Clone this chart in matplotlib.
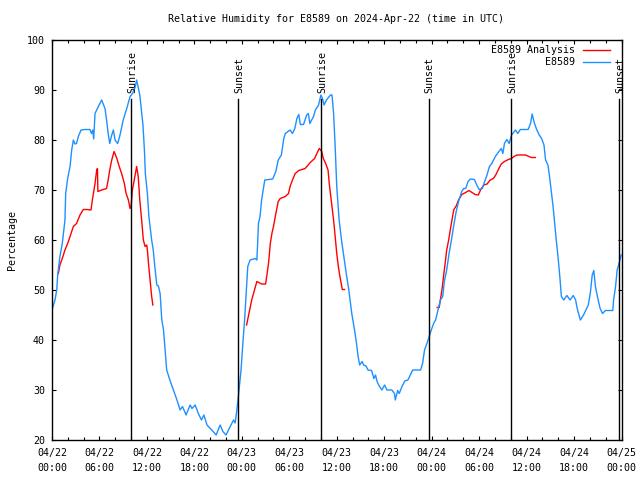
import numpy as np
import matplotlib
matplotlib.use("Agg")
import matplotlib.pyplot as plt
from matplotlib.ticker import MultipleLocator

# hours since 2024-04-22 00:00 UTC
obs_hours = [0.0, 0.38, 0.6, 0.72, 1.0, 1.3, 1.64, 1.73, 1.98, 2.28, 2.49, 2.7, 2.9, 3.1, 3.33,
             3.67, 4.18, 4.8, 5.0, 5.15, 5.27, 5.44, 5.86, 6.28, 6.7, 6.9, 7.1, 7.3, 7.55, 7.76,
             7.97, 8.3, 8.6, 9.0, 9.45, 9.87, 10.17, 10.5, 10.7, 11.1, 11.5, 11.7, 11.8, 12.06,
             12.25, 12.6, 12.8, 13.0, 13.25, 13.45, 13.67, 13.88, 14.1, 14.3, 14.5, 14.9, 15.35,
             15.8, 16.2, 16.5, 16.95, 17.46, 17.7, 18.1, 18.5, 18.9, 19.2, 19.6, 20.2, 20.75,
             21.26, 21.6, 22.0, 22.4, 22.95, 23.15, 23.37, 23.6, 23.9, 24.1, 24.35, 24.55, 24.75,
             25.05, 25.7, 25.9, 26.0, 26.1, 26.3, 26.5, 26.9, 27.9, 28.3, 28.6, 29.0, 29.3, 29.5,
             30.1, 30.4, 30.7, 30.96, 31.2, 31.4, 31.8, 32.2, 32.4, 32.6, 33.06, 33.3, 33.7, 34.0,
             34.2, 34.4, 34.7, 35.2, 35.4, 35.6, 35.8, 36.0, 36.3, 36.6, 36.9, 37.2, 37.5, 37.9,
             38.25, 38.5, 38.7, 38.9, 39.2, 39.4, 39.7, 39.95, 40.4, 40.7, 40.9, 41.1, 41.3, 41.7,
             42.05, 42.35, 42.97, 43.3, 43.4, 43.7, 43.9, 44.25, 44.6, 45.0, 45.3, 45.6, 46.6,
             46.85, 47.1, 47.4, 47.6, 47.95, 48.3, 48.5, 48.8, 49.1, 49.4, 49.6, 49.9, 50.2, 50.5,
             50.8, 51.1, 51.4, 51.8, 52.05, 52.3, 52.6, 52.9, 53.4, 53.7, 54.0, 54.4, 54.7, 55.0,
             55.3, 55.6, 56.05, 56.5, 56.8, 57.0, 57.2, 57.5, 57.8, 58.1, 58.6, 58.9, 59.2, 60.2,
             60.5, 60.7, 61.0, 61.3, 61.6, 61.9, 62.2, 62.4, 62.7, 62.9, 63.1, 63.35, 63.55, 63.75,
             63.97, 64.2, 64.4, 64.7, 65.1, 65.5, 65.9, 66.2, 66.4, 66.8, 67.2, 67.6, 67.8, 68.05,
             68.3, 68.5, 68.7, 69.05, 69.3, 69.6, 69.97, 70.9, 71.0, 71.25, 71.45, 71.75, 71.95]
obs_rh = [46, 48, 50, 53, 56.7, 59.3, 64, 69.3, 72.3, 74.7, 78, 80, 79.2, 79.3, 80.7,
          82, 82.1, 82.1, 81.3, 82, 80.2, 85.3, 86.7, 88, 86.3, 84, 81.3, 79.3, 81, 82,
          80, 79.3, 81, 84, 86.3, 88.7, 89.3, 90.5, 92, 89, 83, 77.5, 73.3, 69.3,
          64.7, 60, 58, 54.7, 51, 50.8, 49.3, 44, 42, 38, 34, 32, 30,
          28, 26, 26.7, 25, 27, 26.3, 27, 25.3, 24, 25, 23, 22, 21,
          23, 21.7, 21, 22.3, 24, 23.4, 26, 29.3, 34, 38.7, 44, 49.3, 54.7,
          56, 56.3, 56, 59.3, 63.3, 64.7, 68, 72, 72.2, 73.7, 76, 77, 80.3, 81.3,
          82, 81.3, 82.3, 84.3, 85.1, 83.1, 83.1, 85, 85.3, 83.3, 84.7, 86, 87, 89,
          88.3, 87, 88, 89, 89, 85.3, 78.7, 70.7, 64, 60, 56.7, 53.3, 50.3, 45.3,
          42, 39.3, 36.7, 35, 35.7, 35, 34.8, 34, 33.9, 32.3, 33, 31.7, 31, 30,
          31, 30, 30, 29.3, 28, 29.9, 29.3, 30.7, 31.8, 32, 33, 34, 34,
          35.3, 38, 39.3, 40.3, 42, 43.5, 44, 46, 48, 48.7, 51.7, 54, 57.3, 60,
          63, 65.7, 67.7, 69.7, 70.3, 70.3, 71.7, 72.2, 72.1, 71, 70.1, 70.3, 71.7, 73,
          74.7, 75.3, 76.7, 77.7, 78.3, 77.3, 79.3, 80.1, 79.3, 81, 82, 81.3, 82.1, 82.1,
          83.3, 85.2, 83.3, 82, 81, 80.3, 79, 76, 75, 72.7, 70, 66.7, 63.3, 60,
          56.7, 52.7, 48.7, 48, 48.9, 48, 48.9, 48, 46.3, 44, 45, 46.3, 47, 49.3,
          53, 53.9, 50.7, 48, 46.3, 45.3, 45.9, 45.9, 48, 50.7, 54, 55.7, 57]

# analysis series, nan breaks the gaps
ana_hours = [0.8, 1.0, 1.3, 1.64, 1.98, 2.28, 2.7, 3.1, 3.54, 3.96, 4.4, 4.93, 5.1, 5.44, 5.65,
             5.75, 5.8, 6.28, 6.9, 7.1, 7.3, 7.55, 7.85, 8.2, 8.5, 8.8, 9.15, 9.37, 9.66, 9.87,
             10.0, 10.16, 10.4, 10.7, 10.9, 11.1, 11.35, 11.55, 11.77, 11.98, 12.06, 12.2, 12.4,
             12.6, 12.75, 18.0,
             24.6, 24.9, 25.25, 25.6, 25.9, 26.5, 27.0, 27.2, 27.4, 27.6, 27.8, 28.0, 28.3, 28.6,
             28.85, 29.5, 29.9, 30.1, 30.4, 30.75, 31.2, 32.0, 32.65, 33.2, 33.6, 33.8, 34.1, 34.3,
             34.6, 34.9, 35.05, 35.3, 35.6, 35.8, 36.0, 36.2, 36.4, 36.6, 36.7, 36.98, 42.0,
             48.7, 48.95, 49.1, 49.3, 49.5, 49.7, 49.9, 50.15, 50.35, 50.6, 50.8, 51.1, 51.4, 51.8,
             52.3, 52.7, 53.1, 53.5, 53.9, 54.2, 54.6, 55.0, 55.4, 55.8, 56.1, 56.5, 56.8, 57.2,
             57.7, 58.1, 58.4, 58.8, 59.85, 60.3, 60.6, 61.1]
ana_rh = [53.3, 55, 56.3, 58, 59.3, 60.7, 62.7, 63.3, 65, 66.1, 66.1, 66, 68, 71.3, 74,
          74.3, 69.7, 70, 70.3, 72, 74, 76, 77.7, 76.3, 74.7, 73.3, 71.3, 69.3, 68, 66.3,
          66.7, 70, 72, 74.7, 72.7, 68, 63.7, 60, 58.7, 59, 58, 55.3, 52,
          48.7, 47, np.nan,
          43, 45.3, 48, 50, 51.7, 51.2, 51.2, 53.3, 55.7, 59.3, 61.3, 62.7, 65.3, 67.7,
          68.3, 68.7, 69.3, 70.7, 72, 73.3, 73.9, 74.3, 75.5, 76.3, 77.7, 78.3, 77.7, 76.3,
          75.3, 74, 71.3, 68, 64, 60.7, 57.3, 54.7, 52.7, 51, 50.1, 50.1, np.nan,
          46.5, 46.5, 48, 50, 52.7, 55.3, 58, 60, 62, 64.3, 66.1, 66.8, 68, 69.1,
          69.5, 69.9, 69.5, 69.1, 69, 70.1, 71, 71.2, 72, 72.3, 73, 74.3, 75.2, 75.7,
          76.1, 76.3, 76.7, 77, 77, 76.7, 76.5, 76.5]

sun_hours = [10.0, 23.57, 34.04, 47.6, 58.0, 71.7]
sun_labels = ["Sunrise", "Sunset", "Sunrise", "Sunset", "Sunrise", "Sunset"]

tick_dates = ["04/22", "04/22", "04/22", "04/22", "04/23", "04/23", "04/23", "04/23",
              "04/24", "04/24", "04/24", "04/24", "04/25"]
tick_times = ["00:00", "06:00", "12:00", "18:00"] * 3 + ["00:00"]

FONT = "DejaVu Sans Mono"
FS = 7.2
plt.rcParams["font.family"] = FONT
plt.rcParams["font.size"] = FS

fig = plt.figure(figsize=(6.4, 4.8), dpi=100)
ax = fig.add_axes([52 / 640, 1 - 440 / 480, 569.5 / 640, 400 / 480])

ax.plot(ana_hours, ana_rh, color="#ff0000", lw=1.0, label="E8589 Analysis")
ax.plot(obs_hours, obs_rh, color="#1e90ff", lw=1.0, label="E8589")

for h, lab in zip(sun_hours, sun_labels):
    ax.plot([h, h], [20, 88.2], color="black", lw=1.0)
    ax.text(h + 0.15, 89.4, lab, rotation=90, ha="center", va="bottom", fontsize=FS)

ax.set_xlim(0, 72)
ax.set_ylim(20, 100)
ax.set_xticks(np.arange(0, 73, 6))
ax.set_xticklabels([d + "\n" + t for d, t in zip(tick_dates, tick_times)], linespacing=1.55)
ax.xaxis.set_minor_locator(MultipleLocator(2))
ax.set_yticks(np.arange(20, 101, 10))
ax.tick_params(which="both", direction="in", top=True, right=True, width=0.8, colors="black")
ax.tick_params(which="major", length=3.2, pad=5)
ax.tick_params(axis="x", which="major", pad=6)
ax.tick_params(which="minor", length=2.2)
for s in ax.spines.values():
    s.set_linewidth(1.0)

ax.set_ylabel("Percentage", labelpad=7)
fig.text(336.5 / 640, 1 - 19 / 480, "Relative Humidity for E8589 on 2024-Apr-22 (time in UTC)",
         ha="center", va="center", fontsize=FS)

ax.legend(loc="upper right", bbox_to_anchor=(0.983, 0.992), frameon=False, markerfirst=False,
          handlelength=2.7, handletextpad=0.8, labelspacing=0.2, borderaxespad=0.0,
          borderpad=0.2)

fig.savefig("out.png", dpi=100)
